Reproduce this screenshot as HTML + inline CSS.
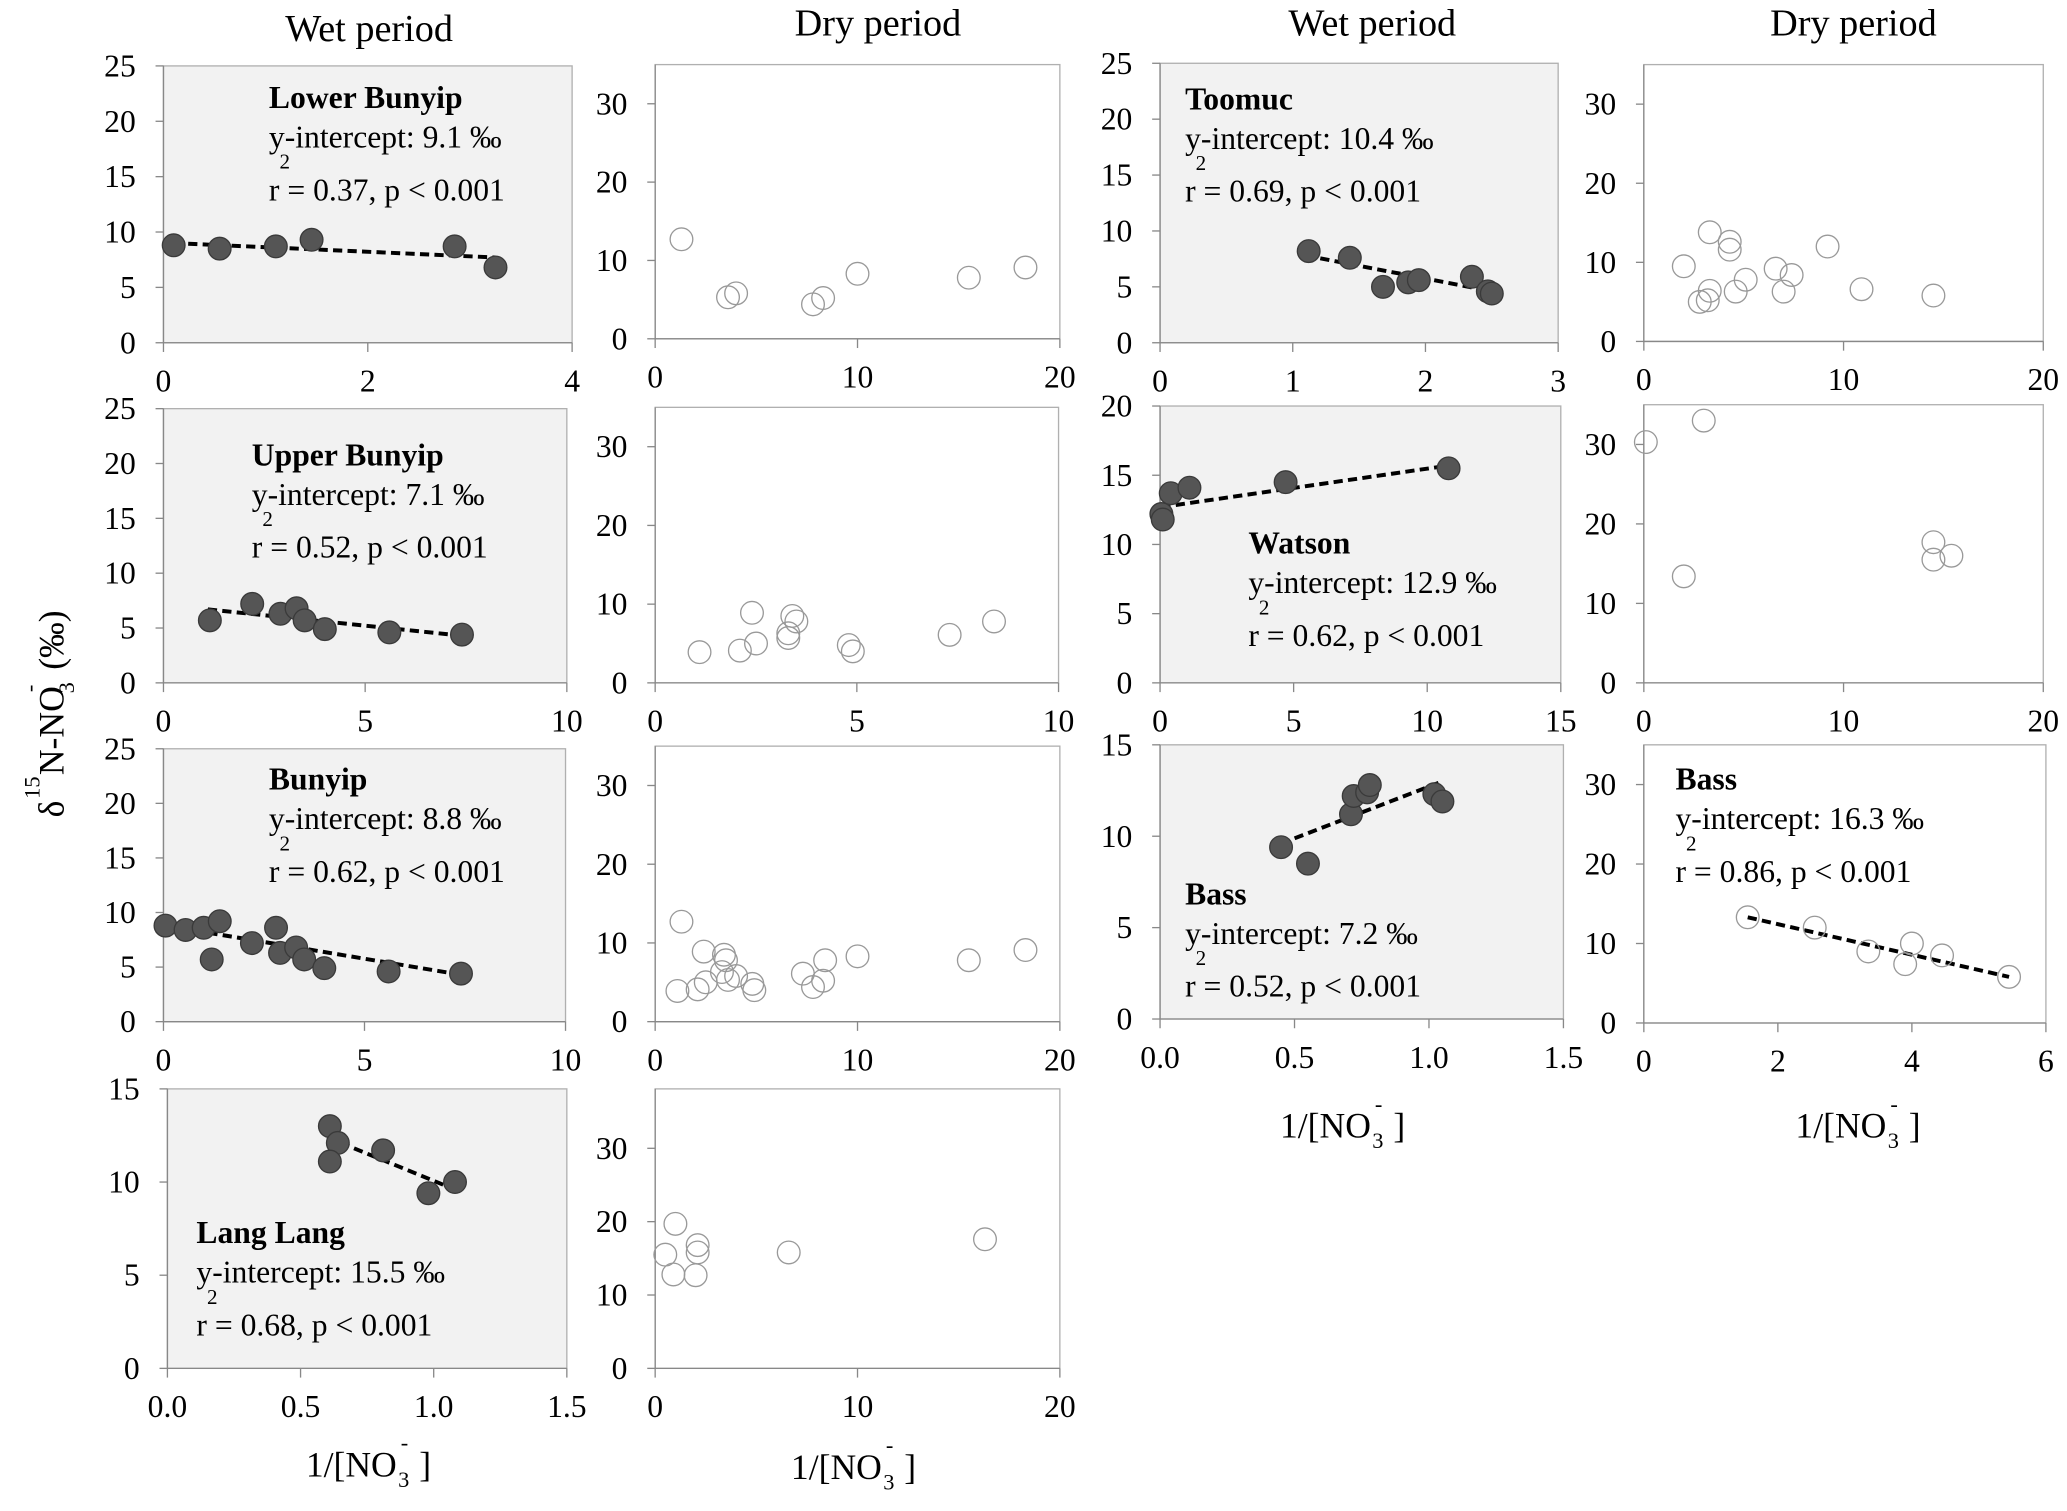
<!DOCTYPE html>
<html><head><meta charset="utf-8">
<style>
html,body{margin:0;padding:0;background:#fff;}
svg{display:block;}
svg text{font-family:"Liberation Serif","Times New Roman",serif !important;fill:#000;}
</style></head>
<body>
<svg id="fig" width="2067" height="1511" viewBox="0 0 1568 1146.2" preserveAspectRatio="none" xmlns="http://www.w3.org/2000/svg" font-family="Liberation Serif, serif">
<g id="root"></g>
</svg>
<script>
// ---- data (x = 1/[NO3-], y = d15N) ----
const lbWetX=[0.1,0.55,1.1,1.45,2.85,3.25];
const lbWetY=[8.8,8.5,8.7,9.3,8.7,6.8];
const lbWetTrend=[[0.1,9.0],[3.25,7.7]];
const lbDryX=[1.3,3.6,4.0,7.8,8.3,10.0,15.5,18.3];
const lbDryY=[12.7,5.3,5.8,4.4,5.2,8.3,7.8,9.1];
const ubWetX=[1.15,2.2,2.9,3.3,3.5,4.0,5.6,7.4];
const ubWetY=[5.7,7.2,6.3,6.8,5.7,4.9,4.6,4.4];
const ubWetTrend=[[1.1,6.7],[7.4,4.3]];
const ubDryX=[1.1,2.1,2.4,2.5,3.3,3.3,3.4,3.5,4.8,4.9,7.3,8.4];
const ubDryY=[3.9,4.1,8.9,5.0,6.3,5.7,8.5,7.8,4.8,4.0,6.1,7.8];
const bWetX=[0.05,0.55,1.0,1.2,1.4,2.2,2.8,2.9,3.3,3.5,4.0,5.6,7.4];
const bWetY=[8.8,8.4,8.6,5.7,9.2,7.2,8.6,6.3,6.8,5.7,4.9,4.6,4.4];
const bWetTrend=[[0.05,8.8],[7.4,4.3]];
const bDryX=[1.3,1.1,2.1,2.4,2.5,3.3,3.4,3.5,3.6,4.0,4.8,4.9,7.3,7.8,8.3,8.4,10.0,15.5,18.3];
const bDryY=[12.7,3.9,4.1,8.9,5.0,6.3,8.5,7.8,5.3,5.8,4.8,4.0,6.1,4.4,5.2,7.8,8.3,7.8,9.1];
const llWetX=[0.61,0.64,0.61,0.81,0.98,1.08];
const llWetY=[13.0,12.1,11.1,11.7,9.4,10.0];
const llWetTrend=[[0.6,12.4],[1.08,9.6]];
const llDryX=[0.5,0.9,1.0,2.0,2.1,2.1,6.6,16.3];
const llDryY=[15.5,12.8,19.7,12.7,15.8,16.8,15.8,17.6];
const tmWetX=[1.12,1.43,1.68,1.87,1.95,2.35,2.47,2.5];
const tmWetY=[8.2,7.6,5.0,5.4,5.6,5.9,4.6,4.4];
const tmWetTrend=[[1.1,7.8],[2.5,4.6]];
const tmDryX=[2.0,2.8,3.2,3.3,3.3,4.3,4.3,4.6,5.1,6.6,7.0,7.4,9.2,10.9,14.5];
const tmDryY=[9.5,5.0,5.2,6.4,13.8,11.6,12.6,6.3,7.8,9.2,6.3,8.4,12.0,6.6,5.8];
const wtWetX=[0.05,0.1,0.4,1.1,4.7,10.8];
const wtWetY=[12.2,11.8,13.7,14.1,14.5,15.5];
const wtWetTrend=[[0.05,12.7],[10.8,15.7]];
const wtDryX=[0.1,2.0,3.0,14.5,14.5,15.4];
const wtDryY=[30.3,13.4,33.0,17.7,15.5,16.0];
const bsWetX=[0.45,0.55,0.71,0.72,0.77,0.78,1.02,1.05];
const bsWetY=[9.4,8.5,11.2,12.2,12.4,12.8,12.3,11.9];
const bsWetTrend=[[0.45,9.6],[1.05,13.0]];
const bsDryX=[1.55,2.55,3.35,3.9,4.0,4.45,5.45];
const bsDryY=[13.3,12.0,9.0,7.4,10.0,8.5,5.8];
const bsDryTrend=[[1.55,13.3],[5.45,5.8]];
// tick labels
const yTicks25=["0","5","10","15","20","25"];
const yTicks20=["0","5","10","15","20"];
const yTicks15=["0","5","10","15"];
const yTicksDry=["0","10","20","30"];
const xT4=["0","2","4"], xT10=["0","5","10"], xT20=["0","10","20"], xT15=["0.0","0.5","1.0","1.5"], xT3=["0","1","2","3"], xT15b=["0","5","10","15"], xT6=["0","2","4","6"];

const panels=[
 {n:'lower-bunyip-wet',L:124,R:434,T:50,B:260,xmax:4,ymax:25,xt:xT4,yt:yTicks25,wet:true,x:lbWetX,y:lbWetY,tr:lbWetTrend,ann:{x:204,y:82,t:'Lower Bunyip',i:'9.1',r:'0.37'}},
 {n:'lower-bunyip-dry',L:497,R:804,T:49,B:257,xmax:20,ymax:35,xt:xT20,yt:yTicksDry,wet:false,x:lbDryX,y:lbDryY},
 {n:'upper-bunyip-wet',L:124,R:430,T:310,B:518,xmax:10,ymax:25,xt:xT10,yt:yTicks25,wet:true,x:ubWetX,y:ubWetY,tr:ubWetTrend,ann:{x:191,y:353,t:'Upper Bunyip',i:'7.1',r:'0.52'}},
 {n:'upper-bunyip-dry',L:497,R:803,T:309,B:518,xmax:10,ymax:35,xt:xT10,yt:yTicksDry,wet:false,x:ubDryX,y:ubDryY},
 {n:'bunyip-wet',L:124,R:429,T:568,B:775,xmax:10,ymax:25,xt:xT10,yt:yTicks25,wet:true,x:bWetX,y:bWetY,tr:bWetTrend,ann:{x:204,y:599,t:'Bunyip',i:'8.8',r:'0.62'}},
 {n:'bunyip-dry',L:497,R:804,T:566,B:775,xmax:20,ymax:35,xt:xT20,yt:yTicksDry,wet:false,x:bDryX,y:bDryY},
 {n:'lang-lang-wet',L:127,R:430,T:826,B:1038,xmax:1.5,ymax:15,xt:xT15,yt:yTicks15,wet:true,x:llWetX,y:llWetY,tr:llWetTrend,ann:{x:149,y:943,t:'Lang Lang',i:'15.5',r:'0.68'}},
 {n:'lang-lang-dry',L:497,R:804,T:826,B:1038,xmax:20,ymax:38.1,xt:xT20,yt:yTicksDry,wet:false,x:llDryX,y:llDryY},
 {n:'toomuc-wet',L:880,R:1182,T:48,B:260,xmax:3,ymax:25,xt:xT3,yt:yTicks25,wet:true,x:tmWetX,y:tmWetY,tr:tmWetTrend,ann:{x:899,y:83,t:'Toomuc',i:'10.4',r:'0.69'}},
 {n:'toomuc-dry',L:1247,R:1550,T:49,B:259,xmax:20,ymax:35,xt:xT20,yt:yTicksDry,wet:false,x:tmDryX,y:tmDryY},
 {n:'watson-wet',L:880,R:1184,T:308,B:518,xmax:15,ymax:20,xt:xT15b,yt:yTicks20,wet:true,x:wtWetX,y:wtWetY,tr:wtWetTrend,ann:{x:947,y:420,t:'Watson',i:'12.9',r:'0.62'}},
 {n:'watson-dry',L:1247,R:1550,T:307,B:518,xmax:20,ymax:35,xt:xT20,yt:yTicksDry,wet:false,x:wtDryX,y:wtDryY},
 {n:'bass-wet',L:880,R:1186,T:565,B:773,xmax:1.5,ymax:15,xt:xT15,yt:yTicks15,wet:true,x:bsWetX,y:bsWetY,tr:bsWetTrend,ann:{x:899,y:686,t:'Bass',i:'7.2',r:'0.52'}},
 {n:'bass-dry',L:1247,R:1552,T:565,B:776,xmax:6,ymax:35,xt:xT6,yt:yTicksDry,wet:false,x:bsDryX,y:bsDryY,tr:bsDryTrend,ann:{x:1271,y:599,t:'Bass',i:'16.3',r:'0.86'}}
];

const NS='http://www.w3.org/2000/svg';
const root=document.getElementById('root');
function mk(tag,attrs,parent,txt){const e=document.createElementNS(NS,tag);for(const k in attrs)e.setAttribute(k,attrs[k]);if(tag==='text'){e.setAttribute('font-family','Liberation Serif, serif');}if(txt!==undefined)e.textContent=txt;(parent||root).appendChild(e);return e;}

panels.forEach(p=>{
 const g=mk('g',{});
 
 
 const sx=v=>p.L+(p.R-p.L)*v/p.xmax;
 const sy=v=>p.B-(p.B-p.T)*v/p.ymax;
 const bg=mk('rect',{x:p.L,y:p.T,width:p.R-p.L,height:p.B-p.T,fill:p.wet?'#f2f2f2':'#fff',stroke:'#b0b0b0','stroke-width':1},g);
 
 
 mk('line',{x1:p.L,y1:p.B,x2:p.R,y2:p.B,stroke:'#888','stroke-width':1},g);
 mk('line',{x1:p.L,y1:p.T,x2:p.L,y2:p.B,stroke:'#888','stroke-width':1},g);
 p.yt.forEach(t=>{const v=parseFloat(t);const y=sy(v);
  mk('line',{x1:p.L-6,y1:y,x2:p.L,y2:y,stroke:'#888'},g);
  const tx=mk('text',{x:p.L-21,y:y+8,'text-anchor':'end','font-size':24},g,t);
  
  
 });
 p.xt.forEach(t=>{const v=parseFloat(t);const x=sx(v);
  mk('line',{x1:x,y1:p.B,x2:x,y2:p.B+7,stroke:'#888'},g);
  const tx=mk('text',{x:x,y:p.B+37,'text-anchor':'middle','font-size':24},g,t);
  
  
 });
 if(p.tr){
  const ln=mk('line',{x1:sx(p.tr[0][0]),y1:sy(p.tr[0][1]),x2:sx(p.tr[1][0]),y2:sy(p.tr[1][1]),stroke:'#000','stroke-width':3,'stroke-dasharray':'7,4'},g);
  
  
 }
 p.x.forEach((xv,i)=>{
  const c=mk('circle',{cx:sx(xv),cy:sy(p.y[i]),r:8.6,fill:p.wet?'#555':'none',stroke:p.wet?'#3a3a3a':'#999','stroke-width':1},g);
  
  
 });
 if(p.ann){const a=p.ann;
  const t1=mk('text',{x:a.x,y:a.y,'font-size':24,'font-weight':'bold'},g,a.t);
  
  
  const t2=mk('text',{x:a.x,y:a.y+30,'font-size':24},g,'y-intercept: '+a.i+' ‰');
  
  
  const t3=mk('text',{x:a.x+8,y:a.y+46,'font-size':16},g,'2');
  
  
  const t4=mk('text',{x:a.x,y:a.y+70,'font-size':24},g,'r  = '+a.r+', p < 0.001');
  
  
 }
});

[[280,31,'Wet period'],[666,27,'Dry period'],[1041,27,'Wet period'],[1406,27,'Dry period']].forEach(c=>{
 const t=mk('text',{x:c[0],y:c[1],'text-anchor':'middle','font-size':29},root,c[2]);
 
 
});
[[280,1120],[648,1122],[1019,863],[1410,863]].forEach(c=>{
 const g=mk('g',{});
 
 
 mk('text',{x:c[0]-48,y:c[1],'font-size':27},g,'1/[NO');
 mk('text',{x:c[0]+22,y:c[1]+8,'font-size':17},g,'3');
 mk('text',{x:c[0]+24,y:c[1]-20,'font-size':17},g,'-');
 mk('text',{x:c[0]+38,y:c[1],'font-size':27},g,']');
});
const yg=mk('g',{transform:'translate(48,540) rotate(-90)'});


mk('text',{x:-80,y:0,'font-size':27},yg,'δ');
mk('text',{x:-66,y:-18,'font-size':17},yg,'15');
mk('text',{x:-48,y:0,'font-size':27},yg,'N-NO');
mk('text',{x:14,y:8,'font-size':17},yg,'3');
mk('text',{x:15,y:-20,'font-size':17},yg,'-');
mk('text',{x:32,y:0,'font-size':27},yg,'(‰)');
</script>
</body></html>
